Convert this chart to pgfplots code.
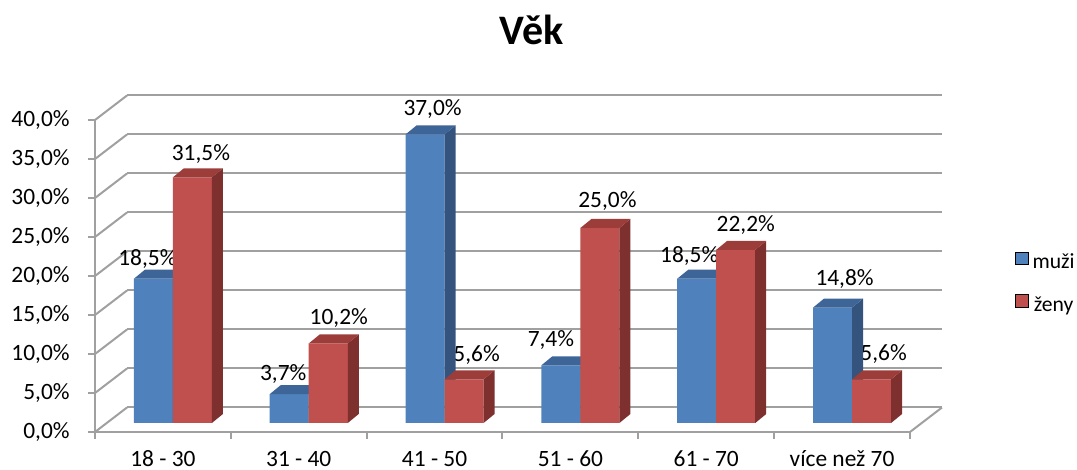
\documentclass[border=0pt]{standalone}
\usepackage{fontspec}
\setmainfont{Carlito}
\usepackage{pgfplots}
\pgfplotsset{compat=1.18}
\usepackage{pgfplotstable}

\definecolor{mfront}{HTML}{4F81BD}
\definecolor{mtop}{HTML}{3E6597}
\definecolor{mside}{HTML}{34547E}
\definecolor{zfront}{HTML}{C0504D}
\definecolor{ztop}{HTML}{9C3D3A}
\definecolor{zside}{HTML}{7E302E}
\definecolor{gridgray}{HTML}{A0A0A0}

% share of respondents per age group (%), plus label offsets in pt
% (offsets are measured from the centre of each column's front face)
\pgfplotstableread{
x    m     z     mdx    mdy    zdx   zdy
0.5  18.5  31.5  -3     10     4.25  11.5
1.5  3.7   10.2  -3     10     5.25  12.5
2.5  37.0  5.6   3.75   12.5   6.25  12
3.5  7.4   25.0  -5     12.5   3.75  13.5
4.5  18.5  22.2  -3.75  11.5   5     12.5
5.5  14.8  5.6   6      14.25  6     12.5
}\data

% 3D faces of the columns: the origin is the top of the column at the
% category centre; \rawv is the column value (3.9pt per percent).
% "muži" column occupies [-19.5pt,0], "ženy" column [0,19.5pt].
\pgfdeclareplotmark{mSide}{%
  \pgfsetfillcolor{mside}%
  \pgfpathmoveto{\pgfpoint{0pt}{0pt}}%
  \pgfpathlineto{\pgfpoint{5.5pt}{4.5pt}}%
  \pgfpathlineto{\pgfpoint{5.5pt}{4.5pt-\rawv*3.9pt}}%
  \pgfpathlineto{\pgfpoint{0pt}{-\rawv*3.9pt}}%
  \pgfpathclose\pgfusepathqfill}
\pgfdeclareplotmark{mTop}{%
  \pgfsetfillcolor{mtop}%
  \pgfpathmoveto{\pgfpoint{-19.5pt}{0pt}}%
  \pgfpathlineto{\pgfpoint{-14pt}{4.5pt}}%
  \pgfpathlineto{\pgfpoint{5.5pt}{4.5pt}}%
  \pgfpathlineto{\pgfpoint{0pt}{0pt}}%
  \pgfpathclose\pgfusepathqfill}
\pgfdeclareplotmark{zSide}{%
  \pgfsetfillcolor{zside}%
  \pgfpathmoveto{\pgfpoint{19.5pt}{0pt}}%
  \pgfpathlineto{\pgfpoint{25pt}{4.5pt}}%
  \pgfpathlineto{\pgfpoint{25pt}{4.5pt-\rawv*3.9pt}}%
  \pgfpathlineto{\pgfpoint{19.5pt}{-\rawv*3.9pt}}%
  \pgfpathclose\pgfusepathqfill}
\pgfdeclareplotmark{zTop}{%
  \pgfsetfillcolor{ztop}%
  \pgfpathmoveto{\pgfpoint{0pt}{0pt}}%
  \pgfpathlineto{\pgfpoint{5.5pt}{4.5pt}}%
  \pgfpathlineto{\pgfpoint{25pt}{4.5pt}}%
  \pgfpathlineto{\pgfpoint{19.5pt}{0pt}}%
  \pgfpathclose\pgfusepathqfill}

\pgfkeys{/pgf/number format/pct/.style={fixed, fixed zerofill, precision=1,
  use comma, assume math mode=true}}
\tikzset{lab/.style={font=\fontsize{11.7}{14}\selectfont}}
\pgfplotsset{
  base/.style={scale only axis, width=407.5pt, height=156pt,
    xmin=0, xmax=6, ymin=0, ymax=40, clip=false, anchor=south west},
}

\begin{document}
\begin{tikzpicture}
\useasboundingbox (0,0) rectangle (538.5pt,235pt);

% back wall with gridlines
\begin{axis}[base, at={(63.5pt,31.25pt)},
  axis line style={draw=none}, xtick=\empty,
  ytick={0,5,...,40}, yticklabels={}, major tick length=0pt,
  ymajorgrids, grid style={gridgray, line width=1pt}]
\end{axis}

% front frame: axes, ticks, side wall, floor, title, legend
\begin{axis}[base, at={(47.5pt,19pt)},
  axis x line*=bottom, axis y line*=left,
  axis line style={gridgray, line width=1pt},
  tick style={gridgray, line width=1pt},
  tick align=outside, major tick length=3.5pt,
  xtick={0,...,6}, x tick label as interval,
  xticklabels={18 - 30, 31 - 40, 41 - 50, 51 - 60, 61 - 70, více než 70},
  xticklabel style={lab, anchor=base, inner sep=0pt, yshift=-14pt},
  ytick={0,5,...,40},
  yticklabel={\pgfmathprintnumber[pct]{\tick}\%},
  yticklabel style={lab, anchor=east, inner sep=0pt, xshift=-9pt},
  title={Věk},
  title style={at={(0.536,1.204)}, anchor=base, inner sep=0pt,
    font=\bfseries\fontsize{21}{25}\selectfont},
  legend image code/.code={\fill[#1] (0pt,-0.3pt) rectangle (6.3pt,6pt);},
  legend style={draw=none, fill=none, inner sep=0pt, outer sep=0pt,
    at={(1.129,0.476)}, anchor=west, row sep=10.5pt, column sep=2pt,
    font=\fontsize{10.8}{12}\selectfont,
    nodes={inner sep=0pt, text height=7pt, text depth=2pt}},
]
\pgfplotsinvokeforeach{0,5,...,40}{
  \draw[gridgray, line width=1pt] (axis cs:0,#1) -- ++(16pt,12.25pt);
}
\draw[gridgray, line width=1pt] (axis cs:6,0) -- ++(16pt,12.25pt);
\addlegendimage{fill=mfront}
\addlegendentry{muži}
\addlegendimage{fill=zfront}
\addlegendentry{ženy}
\end{axis}

% value labels (drawn before the columns, which may hide part of them)
\begin{axis}[base, hide axis, at={(52.5pt,23.5pt)}]
\addplot[ybar, bar width=19.5pt, bar shift=-9.75pt, draw=none, fill=none,
  visualization depends on={\thisrow{mdx} \as \ldx},
  visualization depends on={\thisrow{mdy} \as \ldy},
  nodes near coords={\pgfmathprintnumber[pct]{\pgfplotspointmeta}\%},
  nodes near coords align={anchor=center},
  every node near coord/.append style={lab, anchor=center, inner sep=0pt,
    xshift={\ldx pt-9.75pt}, yshift=\ldy pt}]
  table[x=x, y=m]{\data};
\addplot[ybar, bar width=19.5pt, bar shift=9.75pt, draw=none, fill=none,
  visualization depends on={\thisrow{zdx} \as \ldx},
  visualization depends on={\thisrow{zdy} \as \ldy},
  nodes near coords={\pgfmathprintnumber[pct]{\pgfplotspointmeta}\%},
  nodes near coords align={anchor=center},
  every node near coord/.append style={lab, anchor=center, inner sep=0pt,
    xshift={\ldx pt+9.75pt}, yshift=\ldy pt}]
  table[x=x, y=z]{\data};
\end{axis}

% muži columns
\begin{axis}[base, hide axis, at={(52.5pt,23.5pt)}]
\addplot[ybar, bar width=19.5pt, bar shift=-9.75pt, fill=mfront, draw=none]
  table[x=x, y=m]{\data};
\addplot[only marks, mark=mSide, visualization depends on={\thisrow{m} \as \rawv}]
  table[x=x, y=m]{\data};
\addplot[only marks, mark=mTop] table[x=x, y=m]{\data};
\end{axis}

% ženy columns
\begin{axis}[base, hide axis, at={(52.5pt,23.5pt)}]
\addplot[ybar, bar width=19.5pt, bar shift=9.75pt, fill=zfront, draw=none]
  table[x=x, y=z]{\data};
\addplot[only marks, mark=zSide, visualization depends on={\thisrow{z} \as \rawv}]
  table[x=x, y=z]{\data};
\addplot[only marks, mark=zTop] table[x=x, y=z]{\data};
\end{axis}
\end{tikzpicture}
\end{document}
